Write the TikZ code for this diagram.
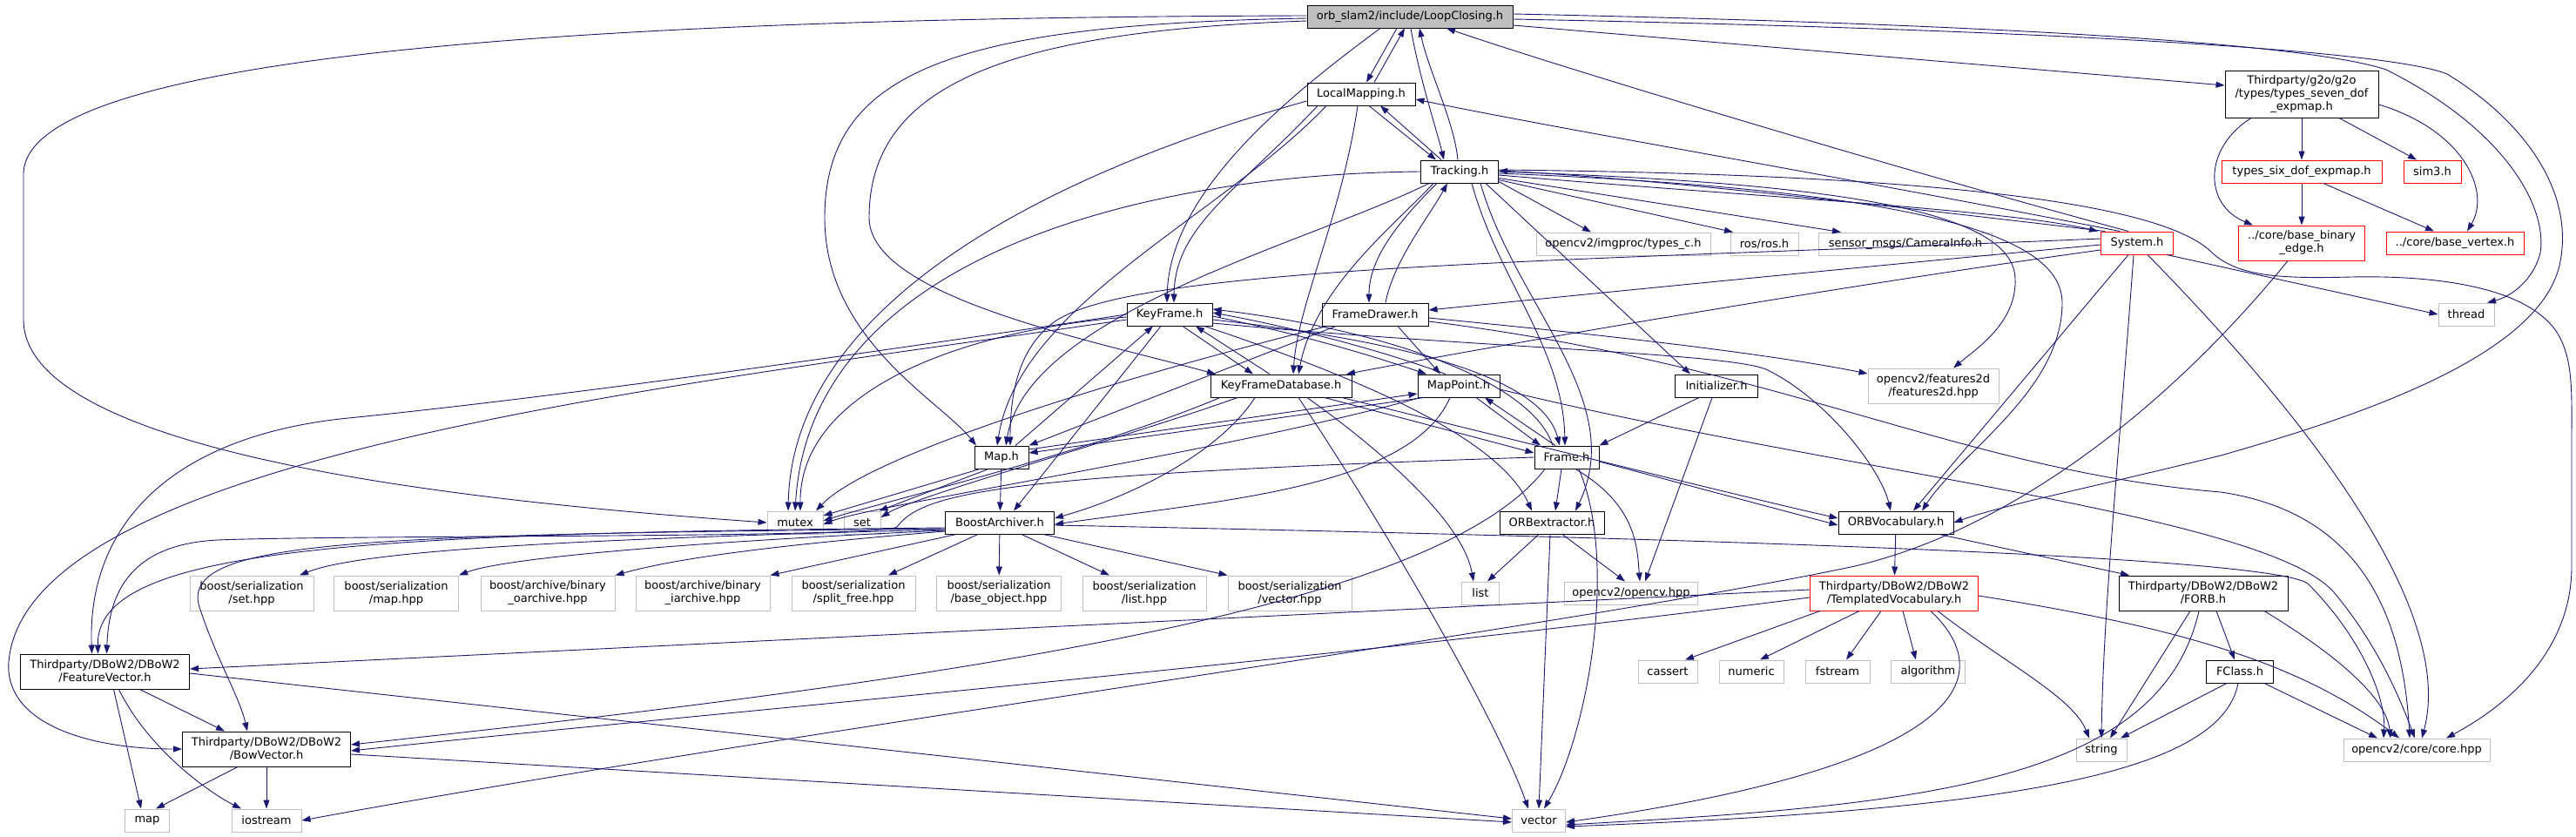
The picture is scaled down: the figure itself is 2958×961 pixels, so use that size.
\documentclass[tikz,border=0pt]{standalone}
\usepackage{fontspec}
\setmainfont{DejaVu Sans}
\usetikzlibrary{arrows.meta}
\definecolor{edgeblue}{HTML}{191970}
\definecolor{boxgray}{HTML}{BFBFBF}

\begin{document}
\begin{tikzpicture}[
    x=1pt, y=-1pt,
    box/.style={rectangle, fill=white, minimum height=26pt, inner sep=0pt, align=center,
        font=\fontsize{13pt}{15pt}\selectfont, line width=1pt},
    incl/.style={box, draw=black},
    ext/.style={box, draw=boxgray},
    trunc/.style={box, draw=red},
    root/.style={box, draw=black, fill=boxgray},
    edge/.style={draw=edgeblue, line width=0.9pt, -{Triangle[length=10pt,width=7pt]}}
]
    \useasboundingbox (0,0) rectangle (2958,961);

    % headers of the project
    \node[root, minimum width=236pt] (lc) at (1619,19) {orb\_slam2/include/LoopClosing.h};
    \node[incl, minimum width=124pt] (lm) at (1563,108) {LocalMapping.h};
    \node[incl, minimum width=89pt] (tr) at (1676,197) {Tracking.h};
    \node[incl, minimum width=176pt, minimum height=54pt] (g2o) at (2643,108) {Thirdparty/g2o/g2o\\/types/types\_seven\_dof\\\_expmap.h};
    \node[trunc, minimum width=184pt] (six) at (2643,197) {types\_six\_dof\_expmap.h};
    \node[trunc, minimum width=66pt] (sim3) at (2793,197) {sim3.h};
    \node[trunc, minimum width=145pt, minimum height=40pt] (bbe) at (2643,279) {../core/base\_binary\\\_edge.h};
    \node[trunc, minimum width=158pt] (bv) at (2819,279) {../core/base\_vertex.h};
    \node[trunc, minimum width=83pt] (sys) at (2454,279) {System.h};
    \node[ext, minimum width=200pt] (typesc) at (1864,280) {opencv2/imgproc/types\_c.h};
    \node[ext, minimum width=78pt] (ros) at (2026,280) {ros/ros.h};
    \node[ext, minimum width=199pt] (caminfo) at (2188,280) {sensor\_msgs/CameraInfo.h};
    \node[ext, minimum width=64pt] (thread) at (2832,361) {thread};
    \node[incl, minimum width=98pt] (kf) at (1343,361) {KeyFrame.h};
    \node[incl, minimum width=122pt] (fd) at (1579,361) {FrameDrawer.h};
    \node[incl, minimum width=162pt] (kfdb) at (1471,443) {KeyFrameDatabase.h};
    \node[incl, minimum width=94pt] (mp) at (1675,443) {MapPoint.h};
    \node[incl, minimum width=95pt] (init) at (1971,443) {Initializer.h};
    \node[ext, minimum width=150pt, minimum height=40pt] (feat2d) at (2220,443) {opencv2/features2d\\/features2d.hpp};
    \node[incl, minimum width=62pt] (map) at (1150,525) {Map.h};
    \node[incl, minimum width=74pt] (frame) at (1799,525) {Frame.h};
    \node[ext, minimum width=64pt] (mutex) at (913,600) {mutex};
    \node[ext, minimum width=42pt] (set) at (990,600) {set};
    \node[incl, minimum width=125pt] (boost) at (1148,600) {BoostArchiver.h};
    \node[incl, minimum width=120pt] (orbx) at (1782,600) {ORBextractor.h};
    \node[incl, minimum width=132pt] (orbv) at (2177,600) {ORBVocabulary.h};

    % boost row
    \node[ext, minimum width=142pt, minimum height=40pt] (bsset) at (289,681) {boost/serialization\\/set.hpp};
    \node[ext, minimum width=143pt, minimum height=40pt] (bsmap) at (455,681) {boost/serialization\\/map.hpp};
    \node[ext, minimum width=154pt, minimum height=40pt] (bao) at (629,681) {boost/archive/binary\\\_oarchive.hpp};
    \node[ext, minimum width=154pt, minimum height=40pt] (bai) at (807,681) {boost/archive/binary\\\_iarchive.hpp};
    \node[ext, minimum width=142pt, minimum height=40pt] (bsf) at (980,681) {boost/serialization\\/split\_free.hpp};
    \node[ext, minimum width=143pt, minimum height=40pt] (bbo) at (1147,681) {boost/serialization\\/base\_object.hpp};
    \node[ext, minimum width=142pt, minimum height=40pt] (bsl) at (1314,681) {boost/serialization\\/list.hpp};
    \node[ext, minimum width=142pt, minimum height=40pt] (bsv) at (1481,681) {boost/serialization\\/vector.hpp};
    \node[ext, minimum width=43pt] (list) at (1700,681) {list};
    \node[ext, minimum width=153pt] (ocv) at (1873,681) {opencv2/opencv.hpp};
    \node[trunc, minimum width=193pt, minimum height=40pt] (tv) at (2175,681) {Thirdparty/DBoW2/DBoW2\\/TemplatedVocabulary.h};
    \node[incl, minimum width=194pt, minimum height=40pt] (forb) at (2530,681) {Thirdparty/DBoW2/DBoW2\\/FORB.h};

    % DBoW2 and std headers
    \node[incl, minimum width=194pt, minimum height=40pt] (fv) at (120.5,771) {Thirdparty/DBoW2/DBoW2\\/FeatureVector.h};
    \node[ext, minimum width=68pt] (cassert) at (1915,771) {cassert};
    \node[ext, minimum width=74pt] (numeric) at (2011,771) {numeric};
    \node[ext, minimum width=74pt] (fstream) at (2110,771) {fstream};
    \node[ext, minimum width=85pt] (algorithm) at (2214,771) {algorithm};
    \node[incl, minimum width=77pt] (fclass) at (2572,771) {FClass.h};
    \node[incl, minimum width=193pt, minimum height=40pt] (bow) at (306,860) {Thirdparty/DBoW2/DBoW2\\/BowVector.h};
    \node[ext, minimum width=58pt] (string) at (2413,861) {string};
    \node[ext, minimum width=168pt] (core) at (2775,861) {opencv2/core/core.hpp};
    \node[ext, minimum width=51pt] (stdmap) at (169,942) {map};
    \node[ext, minimum width=80pt] (iostream) at (306,942) {iostream};
    \node[ext, minimum width=61pt] (vector) at (1767,942) {vector};

    % LoopClosing.h
    \draw[edge] ([xshift=-34pt]lc.south) .. controls (1480,110) and (1343,220) .. ([xshift=-3pt]kf.north);
    \draw[edge] ([xshift=-15pt]lc.south) -- ([xshift=6pt]lm.north);
    \draw[edge] ([xshift=1pt]lc.south) .. controls (1630,90) and (1650,150) .. ([xshift=-18pt]tr.north);
    \draw[edge] ([yshift=-2pt]lc.west) .. controls (1100,28) and (947,80) .. (947,250) .. controls (947,390) and (1080,460) .. ([xshift=-29pt]map.north);
    \draw[edge] ([yshift=-5pt]lc.west) .. controls (1150,36) and (998,100) .. (998,250) .. controls (998,340) and (1250,390) .. ([xshift=-75pt]kfdb.north);
    \draw[edge] ([yshift=1pt]lc.west) .. controls (700,20) and (27,60) .. (27,200) -- (27,367) .. controls (27,530) and (600,580) .. (mutex.west);
    \draw[edge] ([yshift=-10pt]lc.east) -- ([yshift=10pt]g2o.west);
    \draw[edge] ([yshift=3pt]lc.east) .. controls (2300,28) and (2650,50) .. (2740,80) .. controls (2880,150) and (2925,240) .. (2917,290) .. controls (2910,320) and (2885,340) .. ([xshift=24pt]thread.north);
    \draw[edge] ([yshift=-3pt]lc.east) .. controls (2400,35) and (2750,60) .. (2810,85) .. controls (2900,140) and (2955,220) .. (2940,300) .. controls (2920,410) and (2700,480) .. (2550,523) .. controls (2400,560) and (2300,580) .. (orbv.east);

    % LocalMapping.h
    \draw[edge] ([xshift=15pt]lm.north) -- ([xshift=-6pt]lc.south);
    \draw[edge] ([xshift=-50pt]lm.south) .. controls (1420,220) and (1349,260) .. ([xshift=5pt]kf.north);
    \draw[edge] ([xshift=9pt]lm.south) -- ([xshift=-27pt]tr.north);
    \draw[edge] ([xshift=-4pt]lm.south) .. controls (1540,250) and (1490,350) .. ([xshift=14pt]kfdb.north);
    \draw[edge] ([xshift=-40pt]lm.south) .. controls (1400,250) and (1170,350) .. ([xshift=-5pt]map.north);
    \draw[edge] ([yshift=-8pt]lm.west) .. controls (1200,200) and (910,350) .. ([xshift=-8pt]mutex.north);

    % Tracking.h
    \draw[edge] ([xshift=-2pt]tr.north) .. controls (1670,140) and (1640,80) .. ([xshift=11pt]lc.south);
    \draw[edge] ([xshift=-21pt]tr.north) -- ([xshift=22pt]lm.south);
    \draw[edge] ([xshift=-26pt]tr.south) .. controls (1600,260) and (1572,300) .. ([xshift=-7pt]fd.north);
    \draw[edge] ([xshift=-35pt]tr.south) .. controls (1500,280) and (1180,360) .. ([xshift=5pt]map.north);
    \draw[edge] ([xshift=-30pt]tr.south) .. controls (1600,260) and (1510,330) .. ([xshift=20pt]kfdb.north);
    \draw[edge] ([xshift=14pt]tr.south) .. controls (1720,320) and (1795,400) .. ([xshift=-2pt]frame.north);
    \draw[edge] ([xshift=24pt]tr.south) .. controls (1740,350) and (1870,460) .. ([xshift=27pt]orbx.north);
    \draw[edge] ([xshift=30pt]tr.south) -- ([xshift=-30pt]init.north);
    \draw[edge] ([yshift=-4pt]tr.east) .. controls (2000,225) and (2300,240) .. ([xshift=-3pt]sys.north west);
    \draw[edge] (tr.west) .. controls (1300,200) and (930,300) .. (mutex.north);
    \draw[edge] ([yshift=2pt]tr.south east) -- ([xshift=-37pt]typesc.north);
    \draw[edge] ([yshift=4pt]tr.south east) -- ([xshift=-36pt]ros.north);
    \draw[edge] ([yshift=6pt]tr.south east) -- ([xshift=-74pt]caminfo.north);
    \draw[edge] ([yshift=2pt]tr.east) .. controls (2200,200) and (2480,230) .. (2540,290) .. controls (2570,318) and (2620,320) .. (2700,318) .. controls (2800,316) and (2900,330) .. (2935,380) .. controls (2955,410) and (2953,450) .. (2953,500) -- (2953,650) .. controls (2953,760) and (2860,820) .. ([xshift=34pt]core.north);
    \draw[edge] (tr.east) .. controls (2100,210) and (2312,240) .. (2314,320) .. controls (2316,370) and (2270,400) .. ([xshift=23pt]feat2d.north);
    \draw[edge] ([yshift=-2pt]tr.east) .. controls (2250,220) and (2370,280) .. (2368,350) .. controls (2366,450) and (2250,520) .. ([xshift=30pt]orbv.north);

    % System.h
    \draw[edge] ([xshift=-37pt]sys.north) .. controls (2200,240) and (1900,205) .. ([yshift=1pt]tr.east);
    \draw[edge] ([xshift=-20pt]sys.north) .. controls (2100,200) and (1800,150) .. ([yshift=-6pt]lm.east);
    \draw[edge] ([xshift=-10pt]sys.north) .. controls (2200,200) and (1800,80) .. ([xshift=42pt]lc.south);
    \draw[edge] ([yshift=-2pt]sys.west) .. controls (2100,310) and (1800,340) .. ([yshift=5pt]fd.east);
    \draw[edge] ([yshift=-8pt]sys.west) .. controls (2100,330) and (1700,400) .. ([xshift=75pt]kfdb.north);
    \draw[edge] ([yshift=5pt]sys.west) .. controls (1800,300) and (1300,305) .. (1210,370) .. controls (1170,400) and (1160,450) .. ([xshift=10pt]map.north);
    \draw[edge] ([xshift=-10pt]sys.south) -- ([xshift=20pt]orbv.north);
    \draw[edge] ([xshift=-4pt]sys.south) .. controls (2435,500) and (2415,700) .. (string.north);
    \draw[edge] ([xshift=12pt]sys.south) .. controls (2650,480) and (2820,700) .. ([xshift=6pt]core.north);
    \draw[edge] ([xshift=34pt]sys.south) -- (thread.west);

    % g2o types
    \draw[edge] (g2o) -- (six);
    \draw[edge] ([xshift=43pt]g2o.south) -- ([xshift=-18pt]sim3.north);
    \draw[edge] ([yshift=-12pt]g2o.east) .. controls (2830,150) and (2860,220) .. ([xshift=14pt]bv.north);
    \draw[edge] ([xshift=-58pt]g2o.south) .. controls (2530,170) and (2530,235) .. ([xshift=-56pt]bbe.north);
    \draw[edge] (six) -- (bbe);
    \draw[edge] ([xshift=25pt]six.south) -- ([xshift=-24pt]bv.north);
    \draw[edge] ([xshift=-16pt]bbe.south) .. controls (2480,480) and (2300,610) .. (2130,650) .. controls (1800,720) and (900,840) .. (iostream.east);

    % FrameDrawer.h
    \draw[edge] ([xshift=12pt]fd.north) .. controls (1600,300) and (1640,250) .. ([xshift=-14pt]tr.south);
    \draw[edge] ([xshift=26pt]fd.south) -- ([xshift=-21pt]mp.north);
    \draw[edge] ([xshift=-45pt]fd.south) -- (map.north east);
    \draw[edge] ([xshift=-55pt]fd.south) .. controls (1300,430) and (1000,520) .. ([xshift=24pt]mutex.north);
    \draw[edge] ([yshift=-4pt]fd.east) .. controls (1900,390) and (2050,410) .. ([yshift=14pt]feat2d.west);
    \draw[edge] ([yshift=-8pt]fd.east) .. controls (2050,420) and (2250,540) .. (2550,565) .. controls (2720,590) and (2760,720) .. ([xshift=-8pt]core.north);

    % KeyFrame.h
    \draw[edge] ([yshift=-2pt]kf.east) .. controls (1500,385) and (1580,410) .. ([xshift=-37pt]mp.north);
    \draw[edge] ([yshift=-6pt]kf.east) .. controls (1600,390) and (1770,430) .. ([xshift=-8pt]frame.north);
    \draw[edge] ([xshift=15pt]kf.south) -- ([xshift=-32pt]kfdb.north);
    \draw[edge] ([xshift=40pt]kf.south) .. controls (1550,430) and (1720,500) .. ([xshift=-23pt]orbx.north);
    \draw[edge] ([yshift=-10pt]kf.east) .. controls (1700,400) and (1990,405) .. (2030,425) .. controls (2100,460) and (2160,540) .. ([xshift=-6pt]orbv.north);
    \draw[edge] ([yshift=-3pt]kf.west) .. controls (1100,380) and (918,450) .. ([xshift=6pt]mutex.north);
    \draw[edge] ([xshift=-10pt]kf.south) -- ([xshift=16pt]boost.north);
    \draw[edge] (kf.west) .. controls (900,420) and (600,460) .. (400,480) .. controls (200,500) and (100,600) .. ([xshift=-15pt]fv.north);
    \draw[edge] ([yshift=-6pt]kf.west) .. controls (800,440) and (30,520) .. (10,760) .. controls (5,830) and (100,860) .. (bow.west);

    % MapPoint.h
    \draw[edge] ([xshift=-15pt]mp.north) .. controls (1580,400) and (1480,375) .. ([yshift=2pt]kf.east);
    \draw[edge] ([xshift=20pt]mp.south) -- ([xshift=-30pt]frame.north);
    \draw[edge] ([xshift=-40pt]mp.south) -- ([yshift=5pt]map.east);
    \draw[edge] ([yshift=-4pt]mp.east) .. controls (2100,540) and (2600,590) .. (2680,680) .. controls (2730,740) and (2755,800) .. ([xshift=-2pt]core.north);
    \draw[edge] ([xshift=-44pt]mp.south) .. controls (1400,520) and (1000,580) .. ([yshift=-2pt]mutex.east);
    \draw[edge] ([xshift=-10pt]mp.south) .. controls (1620,560) and (1400,575) .. ([yshift=-2pt]boost.east);

    % Map.h
    \draw[edge] ([yshift=9pt]map.east) -- ([yshift=-9pt]mp.west);
    \draw[edge] ([xshift=16pt]map.north) -- ([xshift=-19pt]kf.south);
    \draw[edge] ([xshift=-15pt]map.south) -- ([xshift=-2pt]set.north east);
    \draw[edge] ([xshift=-25pt]map.south) -- ([yshift=8pt]mutex.east);
    \draw[edge] (map) -- (boost);

    % KeyFrameDatabase.h
    \draw[edge] ([xshift=-13pt]kfdb.north) -- ([xshift=30pt]kf.south);
    \draw[edge] ([xshift=20pt]kfdb.south) .. controls (1600,620) and (1720,830) .. ([xshift=-12pt]vector.north);
    \draw[edge] ([xshift=30pt]kfdb.south) .. controls (1590,520) and (1680,600) .. ([xshift=-8pt]list.north);
    \draw[edge] ([xshift=-50pt]kfdb.south) .. controls (1300,500) and (1050,570) .. ([yshift=6pt]set.east);
    \draw[edge] ([xshift=50pt]kfdb.south) -- ([yshift=5pt]frame.west);
    \draw[edge] ([xshift=70pt]kfdb.south) .. controls (1800,520) and (2000,570) .. ([yshift=5pt]orbv.west);
    \draw[edge] ([xshift=-70pt]kfdb.south) .. controls (1250,520) and (1000,580) .. ([yshift=2pt]mutex.east);
    \draw[edge] ([xshift=-30pt]kfdb.south) .. controls (1400,520) and (1300,570) .. ([yshift=5pt]boost.east);

    % Frame.h
    \draw[edge] ([xshift=-16pt]frame.north) .. controls (1760,440) and (1600,380) .. ([yshift=6pt]kf.east);
    \draw[edge] ([xshift=-13pt]frame.north) -- ([xshift=30pt]mp.south);
    \draw[edge] ([xshift=14pt]frame.south) .. controls (1860,650) and (1820,850) .. ([xshift=6pt]vector.north);
    \draw[edge] ([xshift=-6pt]frame.south) -- ([xshift=4pt]orbx.north);
    \draw[edge] ([xshift=10pt]frame.south) .. controls (1880,580) and (1880,630) .. ([xshift=10pt]ocv.north);
    \draw[edge] ([yshift=-5pt]frame.east) -- ([yshift=-3pt]orbv.west);
    \draw[edge] ([xshift=-25pt]frame.south) .. controls (1650,700) and (1100,780) .. ([yshift=5pt]bow.east);
    \draw[edge] (frame.west) .. controls (1150,545) and (1060,565) .. (1030,605) .. controls (1010,618) and (400,614) .. (250,620) .. controls (150,625) and (125,680) .. ([xshift=2pt]fv.north);

    % Initializer.h
    \draw[edge] ([xshift=-20pt]init.south) -- (frame.north east);
    \draw[edge] ([xshift=-5pt]init.south) -- ([xshift=16pt]ocv.north);

    % ORBextractor.h
    \draw[edge] ([xshift=-2pt]orbx.south) -- (vector.north);
    \draw[edge] ([xshift=-15pt]orbx.south) -- ([xshift=8pt]list.north);
    \draw[edge] ([xshift=12pt]orbx.south) -- ([xshift=-7pt]ocv.north);

    % ORBVocabulary.h
    \draw[edge] (orbv) -- (tv);
    \draw[edge] ([xshift=50pt]orbv.south) -- ([xshift=-85pt]forb.north);

    % TemplatedVocabulary.h
    \draw[edge] ([xshift=-85pt]tv.south) -- ([xshift=20pt]cassert.north);
    \draw[edge] ([xshift=-40pt]tv.south) -- ([xshift=10pt]numeric.north);
    \draw[edge] ([xshift=-15pt]tv.south) -- ([xshift=10pt]fstream.north);
    \draw[edge] ([xshift=10pt]tv.south) -- ([xshift=-14pt]algorithm.north);
    \draw[edge] ([xshift=50pt]tv.south) .. controls (2300,760) and (2380,800) .. ([xshift=-14pt]string.north);
    \draw[edge] ([xshift=42pt]tv.south) .. controls (2300,780) and (2250,880) .. ([yshift=-2pt]vector.east);
    \draw[edge] ([yshift=-3pt]tv.east) .. controls (2500,720) and (2640,760) .. ([xshift=-20pt]core.north);
    \draw[edge] ([yshift=4pt]tv.west) -- ([yshift=3pt]fv.east);
    \draw[edge] ([yshift=-5pt]tv.west) .. controls (1500,760) and (800,820) .. ([yshift=-2pt]bow.east);

    % FORB.h
    \draw[edge] ([xshift=15pt]forb.south) -- ([xshift=-6pt]fclass.north);
    \draw[edge] ([xshift=-15pt]forb.south) -- ([xshift=10pt]string.north);
    \draw[edge] ([xshift=-5pt]forb.south) .. controls (2480,900) and (2200,925) .. ([yshift=-5pt]vector.east);
    \draw[edge] ([xshift=70pt]forb.south) .. controls (2680,750) and (2740,800) .. ([xshift=-30pt]core.north);

    % FClass.h
    \draw[edge] ([xshift=-15pt]fclass.south) -- ([xshift=22pt]string.north);
    \draw[edge] ([xshift=28pt]fclass.south) -- ([xshift=-45pt]core.north);
    \draw[edge] ([xshift=-2pt]fclass.south) .. controls (2550,890) and (2300,930) .. ([yshift=-7pt]vector.east);

    % BoostArchiver.h
    \draw[edge] ([yshift=-8pt]boost.west) .. controls (700,618) and (420,630) .. ([xshift=55pt]bsset.north);
    \draw[edge] ([yshift=-9pt]boost.west) .. controls (800,622) and (580,640) .. (bsmap.north east);
    \draw[edge] ([yshift=-10pt]boost.west) .. controls (900,625) and (780,640) .. (bao.north east);
    \draw[edge] ([xshift=-50pt]boost.south) -- (bai.north east);
    \draw[edge] ([xshift=-25pt]boost.south) -- ([xshift=40pt]bsf.north);
    \draw[edge] (boost) -- (bbo);
    \draw[edge] ([xshift=25pt]boost.south) -- ([xshift=-40pt]bsl.north);
    \draw[edge] ([xshift=50pt]boost.south) -- (bsv.north west);
    \draw[edge] ([yshift=-3pt]boost.east) .. controls (1800,615) and (2600,635) .. (2650,670) .. controls (2710,730) and (2740,800) .. ([xshift=-38pt]core.north);
    \draw[edge] ([yshift=-6pt]boost.west) .. controls (400,612) and (110,630) .. ([xshift=-8pt]fv.north);
    \draw[edge] ([yshift=-7pt]boost.west) .. controls (400,614) and (200,620) .. (230,700) .. controls (250,760) and (275,800) .. ([xshift=-22pt]bow.north);

    % FeatureVector.h
    \draw[edge] ([xshift=40pt]fv.south) -- ([xshift=-48pt]bow.north);
    \draw[edge] ([xshift=10pt]fv.south) -- ([xshift=-7pt]stdmap.north);
    \draw[edge] ([xshift=16pt]fv.south) .. controls (170,860) and (240,910) .. ([xshift=-29pt]iostream.north);
    \draw[edge] ([yshift=-2pt]fv.east) -- ([yshift=2pt]vector.west);

    % BowVector.h
    \draw[edge] ([xshift=-33pt]bow.south) -- ([xshift=10pt]stdmap.north);
    \draw[edge] (bow) -- (iostream);
    \draw[edge] ([yshift=-6pt]bow.east) -- ([yshift=-2pt]vector.west);
\end{tikzpicture}
\end{document}
